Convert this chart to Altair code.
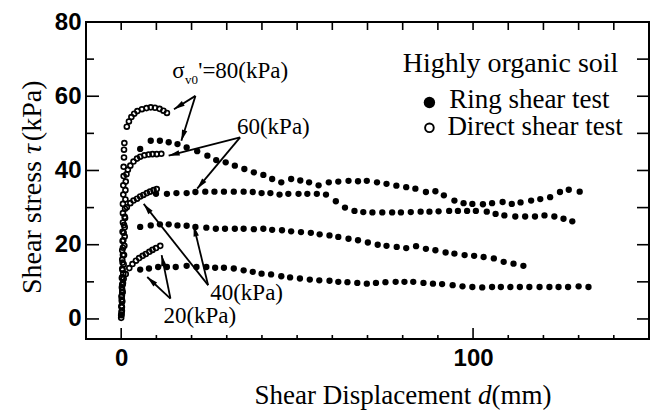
import math
import altair as alt
import pandas as pd

# ---------------- data ----------------
# Ring shear test (filled dots)
r80_d = [5.4, 8.4, 11.0, 13.5, 16.0, 18.6, 21.6, 24.5, 27.0, 29.7, 32.3, 35.0, 37.7, 40.4, 42.9,
         45.5, 48.3, 50.9, 53.4, 56.1, 59.0, 61.7, 64.6, 67.3, 69.8, 72.7, 75.4, 78.2, 81.0, 83.6,
         86.6, 89.3, 91.7, 94.7, 97.3, 99.8, 102.8, 105.4, 108.4, 111.0, 113.5, 116.5, 119.1,
         121.9, 124.7, 127.2, 130.3]
r80_t = [45.8, 48.0, 48.0, 47.6, 47.1, 46.2, 45.2, 44.0, 42.8, 42.2, 41.3, 40.4, 39.5, 38.8, 37.7,
         36.8, 37.7, 37.3, 36.8, 36.0, 36.8, 37.0, 37.2, 37.1, 37.2, 36.8, 36.4, 35.9, 35.5, 35.1,
         34.2, 34.4, 33.3, 31.9, 31.2, 31.0, 30.9, 31.2, 31.5, 31.0, 31.4, 31.9, 32.3,
         32.8, 34.2, 34.8, 34.3]

r60_d = [9.9, 13.0, 15.7, 18.6, 21.1, 23.9, 26.5, 29.2, 32.0, 34.8, 37.4, 39.9, 42.4, 45.0, 47.5,
         50.4, 52.9, 55.6, 58.2, 61.0, 63.6, 66.3, 68.8, 71.4, 74.2, 77.0, 79.5, 82.3, 85.1, 87.6,
         90.2, 93.2, 95.7, 98.3, 100.8, 103.9, 106.4, 108.9, 112.0, 114.8, 117.6, 120.3, 123.1,
         125.7, 128.2]
r60_t = [33.7, 33.7, 33.9, 33.9, 34.2, 34.3, 34.3, 34.3, 34.3, 34.3, 34.2, 33.9, 33.9, 33.5, 33.7,
         33.7, 33.7, 33.7, 33.5, 31.7, 30.0, 29.1, 28.8, 28.7, 28.7, 28.7, 28.7, 28.8, 28.9, 28.9,
         29.0, 29.1, 29.1, 29.1, 29.1, 28.9, 28.3, 27.9, 27.6, 27.6, 27.6, 27.9, 27.6,
         27.0, 26.3]

r40_d = [5.4, 8.4, 11.0, 13.5, 16.0, 18.6, 21.1, 24.2, 26.9, 29.5, 32.3, 34.8, 37.7, 40.4, 42.9,
         45.7, 48.3, 51.1, 53.9, 56.4, 59.2, 61.7, 64.6, 67.3, 70.1, 72.9, 75.4, 78.3, 81.0, 83.8,
         86.6, 89.3, 92.2, 94.7, 97.6, 100.3, 103.0, 105.9, 108.7, 111.5, 114.3]
r40_t = [24.8, 25.2, 25.5, 25.5, 25.2, 25.1, 24.8, 24.6, 24.3, 24.3, 24.3, 24.3, 24.2, 24.3, 24.0,
         23.9, 23.6, 23.4, 23.2, 22.8, 22.5, 22.1, 21.6, 21.2, 20.6, 20.0, 19.7, 19.4, 19.1, 19.6,
         18.9, 18.5, 17.9, 17.6, 17.2, 17.0, 16.7, 16.3, 15.4, 14.9, 14.3]

r20_d = [5.4, 7.9, 10.5, 13.0, 15.5, 18.6, 21.4, 24.2, 26.7, 29.2, 32.0, 34.8, 37.4, 39.9, 42.6,
         45.5, 48.0, 50.8, 53.6, 56.3, 59.2, 61.7, 64.3, 67.1, 69.8, 72.4, 75.1, 78.0, 80.5, 83.0,
         85.9, 88.6, 91.2, 94.2, 97.0, 99.8, 102.6, 105.4, 107.9, 110.6, 113.3, 116.0, 118.9,
         121.7, 124.3, 127.0, 130.0, 132.8]
r20_t = [13.3, 13.6, 14.0, 14.0, 14.0, 14.3, 14.0, 14.0, 13.8, 13.8, 13.6, 13.1, 12.7, 12.2, 12.0,
         11.5, 11.2, 10.9, 10.6, 10.4, 10.3, 10.0, 9.9, 9.7, 9.5, 9.7, 9.9, 10.0, 10.0, 10.0,
         9.7, 9.5, 9.4, 9.1, 8.8, 8.6, 8.5, 8.6, 8.6, 8.6, 8.6, 8.6, 8.6,
         8.6, 8.6, 8.6, 8.8, 8.6]

# Direct shear test (open circles)
d20_d = [0.0, 0.1, 0.1, 0.2, 0.2, 0.3, 0.4, 0.7,
         1.3, 2.3, 3.2, 4.2, 5.1, 6.1, 7.0, 8.0, 8.9, 9.9, 11.1]
d20_t = [0.3, 1.8, 3.3, 4.8, 6.3, 7.8, 9.3, 10.8,
         12.1, 13.7, 14.8, 15.7, 16.4, 17.0, 17.5, 18.1, 18.6, 19.1, 19.7]

d40_d = [0.1, 0.2, 0.2, 0.3, 0.3, 0.3, 0.4, 0.4, 0.5, 0.5, 0.6, 0.7, 0.8, 1.0,
         1.6, 2.6, 3.5, 4.5, 5.4, 6.3, 7.3, 8.2, 9.2, 10.1]
d40_t = [1.2, 3.2, 5.2, 7.2, 9.2, 11.2, 13.2, 15.2, 17.2, 19.2, 21.2, 23.2, 25.3, 27.5,
         30.1, 31.2, 31.9, 32.4, 33.0, 33.4, 33.9, 34.3, 34.7, 35.0]

d60_d = [0.2, 0.3, 0.4, 0.5, 0.6, 0.7, 0.8, 0.9, 1.0, 1.0, 1.1, 1.1, 1.2, 1.2, 1.3, 1.5,
         1.9, 2.6, 3.5, 4.5, 5.4, 6.6, 7.8, 8.9, 10.1, 11.4]
d60_t = [2.2, 4.7, 7.2, 9.7, 12.2, 14.7, 17.2, 19.7, 22.2, 24.7, 27.2, 29.7, 32.2, 34.7, 37.0, 39.0,
         40.2, 41.3, 42.4, 43.2, 43.7, 44.1, 44.3, 44.4, 44.4, 44.5]

d80_d = [0.0, 0.1, 0.1, 0.2, 0.2, 0.3, 0.3, 0.3, 0.4, 0.4, 0.5, 0.5, 0.5, 0.6, 0.6, 0.7, 0.7,
         0.8, 0.8, 0.9,
         1.6, 2.2, 2.9, 3.7, 4.6, 5.9, 7.2, 8.4, 9.6, 10.9, 12.0, 13.0]
d80_t = [1.0, 3.5, 6.0, 8.5, 11.0, 13.5, 16.0, 18.5, 21.0, 23.5, 26.0, 28.5, 31.0, 33.5, 36.0,
         38.5, 41.0, 43.5, 45.6, 47.4,
         51.8, 53.2, 54.4, 55.3, 56.0, 56.5, 56.8, 57.0, 56.9, 56.6, 56.1, 55.5]

# annotation labels
lab_text = ["60(kPa)", "40(kPa)", "20(kPa)"]
lab_d = [32.9, 25.3, 12.0]
lab_t = [49.8, 5.1, -1.2]

sig_text = ["\u03c3", "'=80(kPa)"]
sig_d = [14.5, 21.9]
sig_t = [65.0, 65.0]
sub_text = ["v0"]
sub_d = [18.1]
sub_t = [63.4]

# arrows (start -> tip)
arr_d0 = [21.1, 21.1, 33.8, 33.8, 24.7, 24.7, 14.0, 14.0]
arr_t0 = [60.1, 60.1, 48.9, 48.9, 9.1, 9.1, 5.5, 5.5]
arr_d1 = [15.0, 17.1, 13.5, 21.6, 6.4, 20.6, 7.4, 11.5]
arr_t1 = [56.5, 48.0, 44.0, 35.1, 31.0, 25.2, 11.3, 17.2]

# legend
leg_title = ["Highly organic soil"]
leg_title_d = [80.0]
leg_title_t = [66.6]
leg_text = ["Ring shear test", "Direct shear test"]
leg_text_d = [93.2, 92.7]
leg_text_t = [56.7, 49.6]
leg_mark_d = [87.6, 87.6]
leg_mark_t = [58.3, 51.5]

# ticks
x_tick_labels = [0, 100]
y_tick_labels = [0, 20, 40, 60, 80]
x_major = [0, 100]
x_minor = [10, 20, 30, 40, 50, 60, 70, 80, 90, 110, 120, 130, 140]
x_top = [0, 10, 20, 30, 40, 50, 60, 70, 80, 90, 100, 110, 120, 130, 140]
y_major = [0, 20, 40, 60]
y_minor = [10, 30, 50, 70]
y_right = [0, 10, 20, 30, 40, 50, 60, 70]

# ---------------- layout ----------------
X_DOM = [-10, 150]
Y_DOM = [-5.4, 80]
W, H = 563, 317
KX = W / (X_DOM[1] - X_DOM[0])
KY = H / (Y_DOM[1] - Y_DOM[0])

SERIF = "Liberation Serif"
SANS = "Liberation Sans"

xs = alt.Scale(domain=X_DOM, nice=False, zero=False)
ys = alt.Scale(domain=Y_DOM, nice=False, zero=False)
x_axis = alt.Axis(values=x_tick_labels, ticks=False, domain=False, grid=False, title=None,
                  labelFont=SANS, labelFontSize=24, labelFontWeight="bold", labelColor="black",
                  labelPadding=7, labelFlush=False)
y_axis = alt.Axis(values=y_tick_labels, ticks=False, domain=False, grid=False, title=None,
                  labelFont=SANS, labelFontSize=24, labelFontWeight="bold", labelColor="black",
                  labelPadding=5, labelFlush=False)


def X(f):
    return alt.X(f, type="quantitative", scale=xs, axis=x_axis)


def Y(f):
    return alt.Y(f, type="quantitative", scale=ys, axis=y_axis)


def frame(d, t):
    return pd.DataFrame({"d": d, "t": t})


ring_df = pd.concat([frame(r80_d, r80_t), frame(r60_d, r60_t),
                     frame(r40_d, r40_t), frame(r20_d, r20_t)], ignore_index=True)
direct_df = pd.concat([frame(d20_d, d20_t), frame(d40_d, d40_t),
                       frame(d60_d, d60_t), frame(d80_d, d80_t)], ignore_index=True)

ring = alt.Chart(ring_df).mark_circle(size=40, color="black", opacity=1).encode(x=X("d"), y=Y("t"))
direct = alt.Chart(direct_df).mark_point(shape="circle", filled=False, size=24, strokeWidth=1.7,
                                         color="black", opacity=1).encode(x=X("d"), y=Y("t"))


# arrows
def head_angle(d0, t0, d1, t1):
    sx = (d1 - d0) * KX
    sy = -(t1 - t0) * KY
    return math.degrees(math.atan2(sx, -sy)) % 360


arr_df = pd.DataFrame({"d": arr_d0, "t": arr_t0, "d2": arr_d1, "t2": arr_t1})
arr_df["ang"] = [head_angle(a, b, c, e) for a, b, c, e in zip(arr_d0, arr_t0, arr_d1, arr_t1)]
arrow_lines = alt.Chart(arr_df).mark_rule(color="black", strokeWidth=1.8).encode(
    x=X("d"), y=Y("t"), x2="d2:Q", y2="t2:Q")
arrow_heads = alt.Chart(arr_df).mark_point(shape="M0,0L0.5,2L-0.5,2Z", filled=True, size=120,
                                           color="black", opacity=1, strokeWidth=0).encode(
    x=X("d2"), y=Y("t2"), angle=alt.Angle("ang:Q", scale=None))

# annotation text
labels = alt.Chart(pd.DataFrame({"d": lab_d, "t": lab_t, "s": lab_text})).mark_text(
    font=SERIF, fontSize=23, align="left", baseline="alphabetic", color="black").encode(
    x=X("d"), y=Y("t"), text="s:N")
sig = alt.Chart(pd.DataFrame({"d": sig_d, "t": sig_t, "s": sig_text})).mark_text(
    font=SERIF, fontSize=23, align="left", baseline="alphabetic", color="black").encode(
    x=X("d"), y=Y("t"), text="s:N")
sub = alt.Chart(pd.DataFrame({"d": sub_d, "t": sub_t, "s": sub_text})).mark_text(
    font=SERIF, fontSize=13, align="left", baseline="alphabetic", color="black").encode(
    x=X("d"), y=Y("t"), text="s:N")

# legend
leg_t = alt.Chart(pd.DataFrame({"d": leg_title_d, "t": leg_title_t, "s": leg_title})).mark_text(
    font=SERIF, fontSize=28, align="left", baseline="alphabetic", color="black").encode(
    x=X("d"), y=Y("t"), text="s:N")
leg_txt = alt.Chart(pd.DataFrame({"d": leg_text_d, "t": leg_text_t, "s": leg_text})).mark_text(
    font=SERIF, fontSize=27, align="left", baseline="alphabetic", color="black").encode(
    x=X("d"), y=Y("t"), text="s:N")
leg_fill = alt.Chart(pd.DataFrame({"d": leg_mark_d[:1], "t": leg_mark_t[:1]})).mark_circle(
    size=130, color="black", opacity=1).encode(x=X("d"), y=Y("t"))
leg_open = alt.Chart(pd.DataFrame({"d": leg_mark_d[1:], "t": leg_mark_t[1:]})).mark_point(
    shape="circle", filled=False, size=75, strokeWidth=1.9, color="black", opacity=1).encode(
    x=X("d"), y=Y("t"))


# tick marks (inward)
def xticks(vals, top, length):
    df = pd.DataFrame({"d": vals})
    y0 = 0 if top else H
    y1 = length if top else H - length
    return alt.Chart(df).mark_rule(color="black", strokeWidth=1.6).encode(
        x=X("d"), y=alt.value(y0), y2=alt.value(y1))


def yticks(vals, right, length):
    df = pd.DataFrame({"t": vals})
    x0 = W if right else 0
    x1 = W - length if right else length
    return alt.Chart(df).mark_rule(color="black", strokeWidth=1.6).encode(
        y=Y("t"), x=alt.value(x0), x2=alt.value(x1))


tick_layers = [xticks(x_major, False, 11), xticks(x_minor, False, 4), xticks(x_top, True, 8),
               yticks(y_major, False, 13), yticks(y_minor, False, 8), yticks(y_right, True, 12)]

# axis titles
XT = 27
x_start = 168.5
xt_df = pd.DataFrame({"s": ["Shear Displacement", "d", "(mm)"],
                      "px": [x_start, x_start + 8.276 * XT, x_start + 8.776 * XT],
                      "st": ["normal", "italic", "normal"]})
xt_parts = []
for i in range(3):
    xt_parts.append(alt.Chart(xt_df.iloc[[i]]).mark_text(
        font=SERIF, fontSize=XT, align="left", baseline="alphabetic", color="black",
        fontStyle=xt_df["st"][i]).encode(
        x=alt.value(float(xt_df["px"][i])), y=alt.value(H + 65), text="s:N"))

YT = 28
y_start = 272
yt_df = pd.DataFrame({"s": ["Shear stress", "\u03c4", "(kPa)"],
                      "py": [y_start, y_start - 4.999 * YT, y_start - 5.459 * YT],
                      "st": ["normal", "italic", "normal"]})
yt_parts = []
for i in range(3):
    yt_parts.append(alt.Chart(yt_df.iloc[[i]]).mark_text(
        font=SERIF, fontSize=YT, align="left", baseline="alphabetic", color="black", angle=270,
        fontStyle=yt_df["st"][i]).encode(
        x=alt.value(-45), y=alt.value(float(yt_df["py"][i])), text="s:N"))

chart = alt.layer(
    ring, direct, arrow_lines, arrow_heads, labels, sig, sub,
    leg_t, leg_txt, leg_fill, leg_open, *tick_layers, *xt_parts, *yt_parts
).properties(
    width=W, height=H,
    autosize=alt.AutoSizeParams(type="none"),
    padding={"left": 86, "top": 22, "right": 12, "bottom": 73},
    background="white",
).configure_view(stroke="black", strokeWidth=2)

chart.save("out.html", embed_options={"renderer": "svg", "actions": False})
